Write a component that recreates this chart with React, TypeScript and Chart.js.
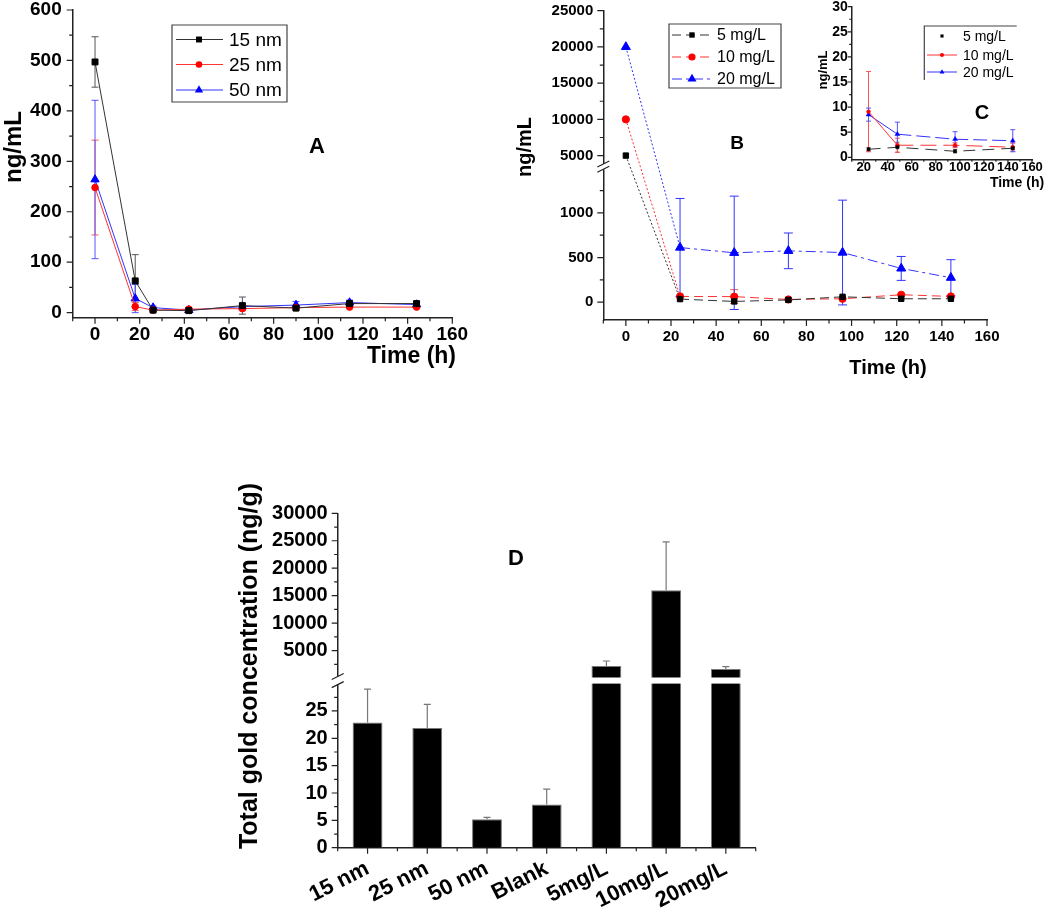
import React, { useEffect, useRef } from 'react';
import { Chart, registerables, LinearScale } from 'chart.js';

Chart.register(...registerables);

const FONT = '"Liberation Sans", Arial, Helvetica, sans-serif';
Chart.defaults.font.family = FONT;
Chart.defaults.color = '#000';
const AXIS = '#222';

// ---------------- Panel A data ----------------
const seriesA = ['15 nm', '25 nm', '50 nm'];
const timesA = [0, 18, 26, 42, 66, 90, 114, 144];
const a15 = [497, 63, 5, 4, 14, 9, 18, 18];
const a15Err = [50, 52, 3, 2, 17, 4, 4, 4];
const a25 = [248, 12, 5, 7, 8, 10, 11, 11];
const a25Err = [94, 8, 3, 2, 4, 3, 3, 3];
const a50 = [264, 28, 10, 5, 12, 15, 20, 16];
const a50Err = [157, 28, 3, 2, 5, 7, 5, 4];

// ---------------- Panel B data ----------------
const seriesB = ['5 mg/L', '10 mg/L', '20 mg/L'];
const timesB = [0, 24, 48, 72, 96, 122, 144];
const b5 = [5000, 34, 8, 25, 60, 38, 38];
const b5Err = [0, 0, 0, 0, 0, 0, 0];
const b10 = [10000, 64, 62, 30, 38, 83, 64];
const b10Err = [0, 0, 78, 0, 0, 0, 0];
const b20 = [20000, 612, 553, 575, 556, 378, 274];
const b20Err = [0, 550, 635, 200, 587, 134, 202];

// ---------------- Panel C data (inset) ----------------
const timesC = [24, 48, 96, 144];
const c5 = [1.6, 2.0, 1.2, 1.8];
const c5Err = [0.3, 1.0, 0.3, 0.3];
const c10 = [9.1, 2.4, 2.4, 2.0];
const c10Err = [8.0, 1.4, 0.5, 0.8];
const c20 = [8.5, 4.6, 3.6, 3.3];
const c20Err = [1.3, 2.4, 1.5, 2.2];

// ---------------- Panel D data ----------------
const catsD = ['15 nm', '25 nm', '50 nm', 'Blank', '5mg/L', '10mg/L', '20mg/L'];
const valsD = [22.9, 21.9, 5.2, 7.9, 2190, 15980, 1650];
const errD = [6.1, 4.3, 0.35, 2.8, 910, 8800, 420];

// ---------------- Tick values ----------------
const timeTicks = [0, 20, 40, 60, 80, 100, 120, 140, 160];
const timeMinor = [-10, 10, 30, 50, 70, 90, 110, 130, 150];
const aYTicks = [0, 100, 200, 300, 400, 500, 600];
const aYMinor = [50, 150, 250, 350, 450, 550];
const bYTicks = [0, 500, 1000, 5000, 10000, 15000, 20000, 25000];
const bYMinor = [250, 750, 1250, 7500, 12500, 17500, 22500];
const cXTicks = [20, 40, 60, 80, 100, 120, 140, 160];
const cXMinor = [10, 30, 50, 70, 90, 110, 130, 150];
const cYTicks = [0, 5, 10, 15, 20, 25, 30];
const cYMinor = [2.5, 7.5, 12.5, 17.5, 22.5, 27.5];
const dYTicks = [0, 5, 10, 15, 20, 25, 5000, 10000, 15000, 20000, 25000, 30000];
const dYMinor = [2.5, 7.5, 12.5, 17.5, 22.5, 27.5, 2500, 7500, 12500, 17500, 22500, 27500];

// ---------------- broken-axis scale ----------------
function makeBrokenScale(scaleId: string, lo: number, hi: number, f1: number, f2: number) {
  class Broken extends (LinearScale as any) {
    static id = scaleId;
    static defaults = {};
    getPixelForValue(value: number) {
      if (value === null || value === undefined) return NaN;
      const min = (this as any).min, max = (this as any).max;
      let d: number;
      if (value <= lo) d = (f1 * (value - min)) / (lo - min);
      else if (value >= hi) d = f2 + ((1 - f2) * (value - hi)) / (max - hi);
      else d = f1 + ((f2 - f1) * (value - lo)) / (hi - lo);
      return (this as any).getPixelForDecimal(d);
    }
    getValueForPixel(pixel: number) {
      const d = (this as any).getDecimalForPixel(pixel);
      const min = (this as any).min, max = (this as any).max;
      if (d <= f1) return min + (d / f1) * (lo - min);
      if (d >= f2) return hi + ((d - f2) / (1 - f2)) * (max - hi);
      return lo + ((d - f1) / (f2 - f1)) * (hi - lo);
    }
  }
  return Broken;
}
const B_LO = 1500, B_HI = 3700;
const D_LO = 30, D_HI = 100;
const BrokenB = makeBrokenScale('brokenB', B_LO, B_HI, 0.4905, 0.5011);
const BrokenD = makeBrokenScale('brokenD', D_LO, D_HI, 0.4907, 0.509);
Chart.register(BrokenB as any, BrokenD as any);

// ---------------- helpers ----------------
const pts = (xs: number[], ys: number[]) => xs.map((x, i) => ({ x, y: ys[i] }));
const fitTo = (w?: number, h?: number) => (s: any) => {
  if (w !== undefined) s.width = w;
  if (h !== undefined) s.height = h;
  s.paddingLeft = 0; s.paddingRight = 0; s.paddingTop = 0; s.paddingBottom = 0;
};
const setTicks = (vals: number[]) => (s: any) => { s.ticks = vals.map((v) => ({ value: v })); };
const bold = (size: number) => ({ family: FONT, size, weight: 'bold' as const, lineHeight: 1.2 });

function drawMarker(ctx: CanvasRenderingContext2D, style: string, x: number, y: number, r: number, color: string) {
  ctx.save();
  ctx.fillStyle = color;
  ctx.beginPath();
  if (style === 'rect') {
    const s = r * Math.SQRT2;
    ctx.rect(x - s / 2, y - s / 2, s, s);
  } else if (style === 'circle') {
    ctx.arc(x, y, r, 0, Math.PI * 2);
  } else {
    ctx.moveTo(x, y - r);
    ctx.lineTo(x + r * 0.866, y + r * 0.5);
    ctx.lineTo(x - r * 0.866, y + r * 0.5);
    ctx.closePath();
  }
  ctx.fill();
  ctx.restore();
}

type Txt = { t: string; x: number; y: number; size: number; rot?: boolean; align?: CanvasTextAlign; weight?: string };
const textPlugin = (id: string, items: Txt[]) => ({
  id,
  afterDraw(chart: any) {
    const ctx = chart.ctx as CanvasRenderingContext2D;
    items.forEach((it) => {
      ctx.save();
      ctx.font = `${it.weight ?? 'bold'} ${it.size}px ${FONT}`;
      ctx.fillStyle = '#000';
      ctx.textAlign = it.align || 'center';
      ctx.textBaseline = 'middle';
      ctx.translate(it.x, it.y);
      if (it.rot) ctx.rotate(-Math.PI / 2);
      ctx.fillText(it.t, 0, 0);
      ctx.restore();
    });
  },
});

type ErrSet = { ds: number; vals: number[]; err: number[]; color: string; cap: number; upOnly?: boolean; width?: number };
const errorPlugin = (id: string, sets: ErrSet[], after: boolean) => {
  const draw = (chart: any) => {
    const ctx = chart.ctx as CanvasRenderingContext2D;
    const y = chart.scales.y;
    sets.forEach((s) => {
      const meta = chart.getDatasetMeta(s.ds);
      ctx.save();
      ctx.strokeStyle = s.color;
      ctx.lineWidth = s.width ?? 1;
      ctx.beginPath();
      s.vals.forEach((v, i) => {
        const e = s.err[i];
        if (!e) return;
        const el = meta.data[i];
        const x = el.x;
        const yt = y.getPixelForValue(v + e);
        const yb = s.upOnly ? y.getPixelForValue(v) : y.getPixelForValue(v - e);
        ctx.moveTo(x, yt); ctx.lineTo(x, yb);
        ctx.moveTo(x - s.cap / 2, yt); ctx.lineTo(x + s.cap / 2, yt);
        if (!s.upOnly) { ctx.moveTo(x - s.cap / 2, yb); ctx.lineTo(x + s.cap / 2, yb); }
      });
      ctx.stroke();
      ctx.restore();
    });
  };
  return after ? { id, afterDatasetsDraw: draw } : { id, beforeDatasetsDraw: draw };
};

const tickPlugin = (id: string, xMaj: number[] | null, xMin: number[] | null, yMaj: number[], yMin: number[], major: number, minor: number) => ({
  id,
  afterDraw(chart: any) {
    const { ctx, chartArea: ca, scales } = chart;
    const xs = scales.x, ys = scales.y;
    ctx.save();
    ctx.strokeStyle = AXIS;
    ctx.lineWidth = 1.2;
    ctx.beginPath();
    const addX = (px: number, len: number) => { ctx.moveTo(px, ca.bottom); ctx.lineTo(px, ca.bottom + len); };
    const addY = (py: number, len: number) => { ctx.moveTo(ca.left, py); ctx.lineTo(ca.left - len, py); };
    if (xMaj) {
      xMaj.forEach((v) => addX(xs.getPixelForValue(v), major));
      (xMin || []).forEach((v) => addX(xs.getPixelForValue(v), minor));
    } else {
      const n = xs.ticks.length;
      for (let i = 0; i < n; i++) addX(xs.getPixelForTick(i), major);
      for (let i = 0; i <= n; i++) addX(xs.getPixelForValue(i - 0.5), minor);
    }
    yMaj.forEach((v) => addY(ys.getPixelForValue(v), major));
    yMin.forEach((v) => addY(ys.getPixelForValue(v), minor));
    ctx.stroke();
    ctx.restore();
  },
});

const breakPlugin = (id: string, lo: number, hi: number, band: boolean) => ({
  id,
  afterDatasetsDraw(chart: any) {
    if (!band) return;
    const { ctx, chartArea: ca, scales } = chart;
    const top = scales.y.getPixelForValue(hi);
    const bot = scales.y.getPixelForValue(lo);
    ctx.save();
    ctx.fillStyle = '#fff';
    ctx.fillRect(ca.left + 1, top, ca.right - ca.left, bot - top);
    ctx.restore();
  },
  afterDraw(chart: any) {
    const { ctx, chartArea: ca, scales } = chart;
    const top = scales.y.getPixelForValue(hi) - 1;
    const bot = scales.y.getPixelForValue(lo) + 1;
    ctx.save();
    ctx.fillStyle = '#fff';
    ctx.fillRect(ca.left - 3, top, 6, bot - top);
    ctx.strokeStyle = AXIS;
    ctx.lineWidth = 1.2;
    ctx.beginPath();
    [top, bot].forEach((yy) => { ctx.moveTo(ca.left - 6, yy + 3); ctx.lineTo(ca.left + 6, yy - 3); });
    ctx.stroke();
    ctx.restore();
  },
});

type LegItem = { label: string; color: string; lineColor: string; style: string; r: number; dash: number[] | null; line: boolean };
type LegOpts = { box: [number, number, number, number]; sides: 'all' | 'lt'; rows: number[]; l0: number; l1: number; mx: number; tx: number; size: number };
const legendPlugin = (id: string, items: LegItem[], o: LegOpts) => ({
  id,
  afterDraw(chart: any) {
    const ctx = chart.ctx as CanvasRenderingContext2D;
    const [bx, by, bw, bh] = o.box;
    ctx.save();
    ctx.strokeStyle = '#444';
    ctx.lineWidth = 1.2;
    ctx.beginPath();
    if (o.sides === 'all') ctx.rect(bx, by, bw, bh);
    else { ctx.moveTo(bx, by + bh); ctx.lineTo(bx, by); ctx.lineTo(bx + bw, by); }
    ctx.stroke();
    items.forEach((it, i) => {
      const yy = o.rows[i];
      if (it.line) {
        ctx.save();
        ctx.strokeStyle = it.lineColor;
        ctx.lineWidth = 1;
        ctx.setLineDash(it.dash || []);
        ctx.beginPath();
        ctx.moveTo(o.l0, yy); ctx.lineTo(o.l1, yy);
        ctx.stroke();
        ctx.restore();
      }
      drawMarker(ctx, it.style, o.mx, yy, it.r, it.color);
      ctx.fillStyle = '#000';
      ctx.font = `${o.size}px ${FONT}`;
      ctx.textAlign = 'left';
      ctx.textBaseline = 'middle';
      ctx.fillText(it.label, o.tx, yy + 1);
    });
    ctx.restore();
  },
});

const axisBase = (size: number, pad: number) => ({
  grid: { display: false, drawTicks: false },
  border: { display: true, color: AXIS, width: 1.5 },
  ticks: { font: bold(size), color: '#000', padding: pad, autoSkip: false, maxRotation: 0, minRotation: 0, callback: (v: any) => String(v) },
});

const baseOptions = (padding: any) => ({
  responsive: false,
  animation: false as const,
  events: [] as any[],
  layout: { autoPadding: false, padding },
  plugins: { legend: { display: false }, tooltip: { enabled: false } },
});

// ---------------- configs ----------------
function configA(): any {
  const mk = (label: string, data: number[], color: string, line: string, style: string, r: number) => ({
    label, data: pts(timesA, data), borderColor: line, backgroundColor: color, pointBackgroundColor: color, pointBorderColor: color,
    borderWidth: 1, pointStyle: style, pointRadius: r, pointBorderWidth: 1, clip: false, tension: 0,
  });
  return {
    type: 'line',
    data: {
      datasets: [
        mk(seriesA[0], a15, '#000', '#333', 'rect', 4.2),
        mk(seriesA[1], a25, '#ff0000', '#ff3333', 'circle', 3.3),
        mk(seriesA[2], a50, '#0000ff', '#3333ff', 'triangle', 4.8),
      ],
    },
    options: {
      ...baseOptions({ left: 0, top: 10, right: 17.7, bottom: 22.3 }),
      scales: {
        x: { type: 'linear', min: -10, max: 160, ...axisBase(19, 6), afterBuildTicks: setTicks(timeTicks), afterFit: fitTo(undefined, 40) },
        y: { type: 'linear', min: -10, max: 600, ...axisBase(19, 11), afterBuildTicks: setTicks(aYTicks), afterFit: fitTo(72.7, undefined) },
      },
    },
    plugins: [
      errorPlugin('errA', [
        { ds: 0, vals: a15, err: a15Err, color: '#555', cap: 7 },
        { ds: 1, vals: a25, err: a25Err, color: '#ff5555', cap: 7 },
        { ds: 2, vals: a50, err: a50Err, color: '#5555ff', cap: 7 },
      ], false),
      tickPlugin('ticksA', timeTicks, timeMinor, aYTicks, aYMinor, 6, 3.5),
      legendPlugin('legA', [
        { label: seriesA[0], color: '#000', lineColor: '#333', style: 'rect', r: 4.2, dash: null, line: true },
        { label: seriesA[1], color: '#ff0000', lineColor: '#ff3333', style: 'circle', r: 3.3, dash: null, line: true },
        { label: seriesA[2], color: '#0000ff', lineColor: '#3333ff', style: 'triangle', r: 4.8, dash: null, line: true },
      ], { box: [172, 25, 115, 77], sides: 'all', rows: [39.5, 64.5, 90], l0: 176, l1: 223, mx: 199, tx: 229, size: 19 }),
      textPlugin('txtA', [
        { t: 'ng/mL', x: 14, y: 147, size: 24, rot: true },
        { t: 'Time (h)', x: 456, y: 357, size: 23, align: 'right' },
        { t: 'A', x: 317, y: 147, size: 22 },
      ]),
    ],
  };
}

function configB(): any {
  const mk = (label: string, data: number[], color: string, line: string, style: string, r: number, dash: number[]) => ({
    label, data: pts(timesB, data), borderColor: line, backgroundColor: color, pointBackgroundColor: color, pointBorderColor: color,
    borderWidth: 1, borderDash: dash, pointStyle: style, pointRadius: r, pointBorderWidth: 1, clip: false, tension: 0,
    segment: { borderDash: (ctx: any) => (ctx.p0DataIndex === 0 ? [2, 2] : undefined) },
  });
  return {
    type: 'line',
    data: {
      datasets: [
        mk(seriesB[0], b5, '#000', '#333', 'rect', 3.8, [9, 5]),
        mk(seriesB[1], b10, '#ff0000', '#ff3333', 'circle', 3.6, [9, 5]),
        mk(seriesB[2], b20, '#0000ff', '#3333ff', 'triangle', 5.2, [10, 4, 3, 4]),
      ],
    },
    options: {
      ...baseOptions({ left: 0, top: 10.7, right: 23, bottom: 20 }),
      scales: {
        x: { type: 'linear', min: -10, max: 160, ...axisBase(15, 8), afterBuildTicks: setTicks(timeTicks), afterFit: fitTo(undefined, 40) },
        y: { type: 'brokenB', min: -200, max: 25000, ...axisBase(15, 10), afterBuildTicks: setTicks(bYTicks), afterFit: fitTo(123.3, undefined) },
      },
    },
    plugins: [
      errorPlugin('errB', [
        { ds: 0, vals: b5, err: b5Err, color: '#555', cap: 8 },
        { ds: 1, vals: b10, err: b10Err, color: '#ff5555', cap: 8 },
        { ds: 2, vals: b20, err: b20Err, color: '#3333ff', cap: 9 },
      ], false),
      tickPlugin('ticksB', timeTicks, timeMinor, bYTicks, bYMinor, 6, 3.5),
      breakPlugin('brkB', B_LO, B_HI, false),
      legendPlugin('legB', [
        { label: seriesB[0], color: '#000', lineColor: '#333', style: 'rect', r: 3.8, dash: [9, 5], line: true },
        { label: seriesB[1], color: '#ff0000', lineColor: '#ff3333', style: 'circle', r: 3.6, dash: [9, 5], line: true },
        { label: seriesB[2], color: '#0000ff', lineColor: '#3333ff', style: 'triangle', r: 5.2, dash: [10, 4, 3, 4], line: true },
      ], { box: [189, 24, 112, 64], sides: 'all', rows: [35, 57, 79], l0: 192, l1: 232, mx: 212, tx: 237, size: 16 }),
      textPlugin('txtB', [
        { t: 'ng/mL', x: 45, y: 147, size: 20, rot: true },
        { t: 'Time (h)', x: 408, y: 368, size: 20 },
        { t: 'B', x: 257, y: 144, size: 19 },
      ]),
    ],
  };
}

function configC(): any {
  const mk = (label: string, data: number[], color: string, line: string, style: string, r: number, dash: number[], solidFirst: boolean) => ({
    label, data: pts(timesC, data), borderColor: line, backgroundColor: color, pointBackgroundColor: color, pointBorderColor: color,
    borderWidth: 1, borderDash: dash, pointStyle: style, pointRadius: r, pointBorderWidth: 0.5, clip: false, tension: 0,
    segment: { borderDash: (ctx: any) => (solidFirst && ctx.p0DataIndex === 0 ? [] : undefined) },
  });
  return {
    type: 'line',
    data: {
      datasets: [
        mk(seriesB[0], c5, '#000', '#333', 'rect', 2.2, [12, 7], false),
        mk(seriesB[1], c10, '#ff0000', '#ff3333', 'circle', 1.9, [16, 7], true),
        mk(seriesB[2], c20, '#0000ff', '#3333ff', 'triangle', 2.8, [14, 5], true),
      ],
    },
    options: {
      ...baseOptions({ left: 0, top: 6.7, right: 18, bottom: 15.7 }),
      scales: {
        x: { type: 'linear', min: 10, max: 160, ...axisBase(13, 0), afterBuildTicks: setTicks(cXTicks), afterFit: fitTo(undefined, 25) },
        y: { type: 'linear', min: -0.4, max: 30, ...axisBase(14, 4), afterBuildTicks: setTicks(cYTicks), afterFit: fitTo(51.7, undefined) },
      },
    },
    plugins: [
      errorPlugin('errC', [
        { ds: 0, vals: c5, err: c5Err, color: '#555', cap: 4 },
        { ds: 1, vals: c10, err: c10Err, color: '#ff5555', cap: 5 },
        { ds: 2, vals: c20, err: c20Err, color: '#5555ff', cap: 5 },
      ], false),
      tickPlugin('ticksC', cXTicks, cXMinor, cYTicks, cYMinor, 4, 2.5),
      legendPlugin('legC', [
        { label: seriesB[0], color: '#000', lineColor: '#333', style: 'rect', r: 2.2, dash: null, line: false },
        { label: seriesB[1], color: '#ff0000', lineColor: '#ff3333', style: 'circle', r: 2.0, dash: null, line: true },
        { label: seriesB[2], color: '#0000ff', lineColor: '#3333ff', style: 'triangle', r: 2.8, dash: null, line: true },
      ], { box: [124.3, 26, 92.4, 54], sides: 'lt', rows: [36, 55, 72], l0: 127, l1: 157, mx: 142, tx: 163, size: 14 }),
      textPlugin('txtC', [
        { t: 'ng/mL', x: 23, y: 70, size: 13, rot: true },
        { t: 'Time (h)', x: 217, y: 183, size: 14 },
        { t: 'C', x: 182, y: 113, size: 20 },
      ]),
    ],
  };
}

function configD(): any {
  return {
    type: 'bar',
    data: {
      labels: catsD,
      datasets: [
        { label: 'Total gold', data: valsD, backgroundColor: '#000', borderColor: '#777', borderWidth: 1, categoryPercentage: 1, barPercentage: 0.5 },
      ],
    },
    options: {
      ...baseOptions({ left: 0, top: 43.3, right: 44.3, bottom: 0.3 }),
      scales: {
        x: {
          type: 'category', offset: true,
          grid: { display: false, drawTicks: false },
          border: { display: true, color: AXIS, width: 1.5 },
          ticks: { font: bold(22), color: '#000', padding: 8, autoSkip: false, maxRotation: 27, minRotation: 27 },
          afterFit: fitTo(undefined, 71),
        },
        y: { type: 'brokenD', min: 0, max: 30000, ...axisBase(20, 10), afterBuildTicks: setTicks(dYTicks), afterFit: fitTo(137.7, undefined) },
      },
    },
    plugins: [
      errorPlugin('errD', [{ ds: 0, vals: valsD, err: errD, color: '#777', cap: 7, upOnly: true, width: 1.2 }], true),
      breakPlugin('brkD', D_LO, D_HI, true),
      tickPlugin('ticksD', null, null, dYTicks, dYMinor, 6, 3.5),
      textPlugin('txtD', [
        { t: 'Total gold concentration (ng/g)', x: 50, y: 196, size: 25, rot: true },
        { t: 'D', x: 316, y: 89, size: 22 },
      ]),
    ],
  };
}

function ChartCanvas({ make, left, top, width, height }: { make: () => any; left: number; top: number; width: number; height: number }) {
  const ref = useRef<HTMLCanvasElement | null>(null);
  useEffect(() => {
    if (!ref.current) return;
    const chart = new Chart(ref.current, make());
    return () => chart.destroy();
  }, []);
  return <canvas ref={ref} width={width} height={height} style={{ position: 'absolute', left, top, width, height }} />;
}

export default function App() {
  return (
    <div style={{ position: 'absolute', left: 0, top: 0, width: 1050, height: 919, background: '#fff', overflow: 'hidden' }}>
      <ChartCanvas make={configA} left={0} top={0} width={470} height={380} />
      <ChartCanvas make={configB} left={480} top={0} width={530} height={380} />
      <ChartCanvas make={configC} left={800} top={0} width={250} height={200} />
      <ChartCanvas make={configD} left={200} top={470} width={600} height={449} />
    </div>
  );
}
